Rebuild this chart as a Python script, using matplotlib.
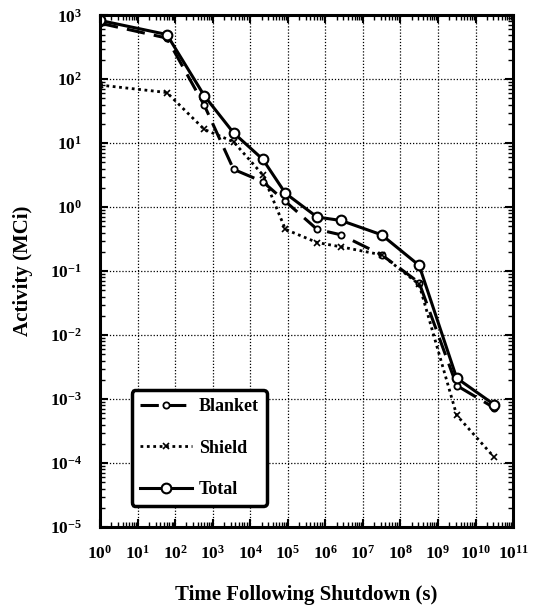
import matplotlib
matplotlib.use('Agg')
import matplotlib.pyplot as plt
from matplotlib.ticker import LogLocator, NullFormatter

# Данные: время после останова (с) и активность (MCi)
time_s = [1, 60, 600, 3600, 21600, 86400, 604800, 2.6e6, 3.15e7, 3.15e8, 3.15e9, 3.15e10]
blanket = [750, 440, 39, 3.9, 2.5, 1.23, 0.45, 0.37, 0.18, 0.066, 0.00163, 0.00073]
shield = [81, 62, 16.4, 10.5, 3.2, 0.45, 0.28, 0.24, 0.18, 0.062, 0.00056, 0.000123]
total = [830, 500, 55, 14.5, 5.6, 1.65, 0.70, 0.62, 0.37, 0.123, 0.00213, 0.00082]

plt.rcParams['font.family'] = ['Liberation Serif', 'DejaVu Serif']
plt.rcParams['font.weight'] = 'bold'
plt.rcParams['axes.labelweight'] = 'bold'

fig = plt.figure(figsize=(5.35, 6.1), dpi=100)
ax = fig.add_axes([0.187, 0.136, 0.772, 0.839])

ax.plot(time_s, blanket, color='black', lw=2.2, ls=(0, (6, 3)),
        marker='o', ms=4.5, mfc='white', mec='black', mew=1.3, label='Blanket')
ax.plot(time_s, shield, color='black', lw=2.0, ls=(0, (1, 1.3)),
        marker='x', ms=5, mew=1.2, label='Shield')
ax.plot(time_s, total, color='black', lw=2.2, ls='-',
        marker='o', ms=7, mfc='white', mec='black', mew=1.5, label='Total')

ax.set_xscale('log')
ax.set_yscale('log')
ax.set_xlim(1, 1e11)
ax.set_ylim(1e-5, 1e3)

# Деления: основные по декадам, дополнительные 2..9
ax.xaxis.set_major_locator(LogLocator(base=10, numticks=20))
ax.xaxis.set_minor_locator(LogLocator(base=10, subs=range(2, 10), numticks=20))
ax.xaxis.set_minor_formatter(NullFormatter())
ax.yaxis.set_major_locator(LogLocator(base=10, numticks=20))
ax.yaxis.set_minor_locator(LogLocator(base=10, subs=range(2, 10), numticks=20))
ax.yaxis.set_minor_formatter(NullFormatter())

ax.tick_params(which='both', direction='in', top=True, right=True)
ax.tick_params(which='major', length=6, width=1.5, labelsize=12.5, pad=13)
ax.tick_params(which='minor', length=3.5, width=1.0)
for lab in ax.get_xticklabels() + ax.get_yticklabels():
    lab.set_fontweight('bold')

ax.grid(True, which='major', color='black', ls=(0, (1, 1.5)), lw=0.9)
for sp in ax.spines.values():
    sp.set_linewidth(2.2)

ax.set_xlabel('Time Following Shutdown (s)', fontsize=15, labelpad=16)
ax.set_ylabel('Activity (MCi)', fontsize=15, labelpad=12)

leg = ax.legend(loc='lower left', bbox_to_anchor=(0.077, 0.041), borderaxespad=0,
                fontsize=13, handlelength=2.9, handletextpad=0.35,
                labelspacing=1.35, borderpad=0.45,
                framealpha=1, edgecolor='black', fancybox=True)
leg.get_frame().set_linewidth(2.5)

fig.savefig('out.png', dpi=100)
